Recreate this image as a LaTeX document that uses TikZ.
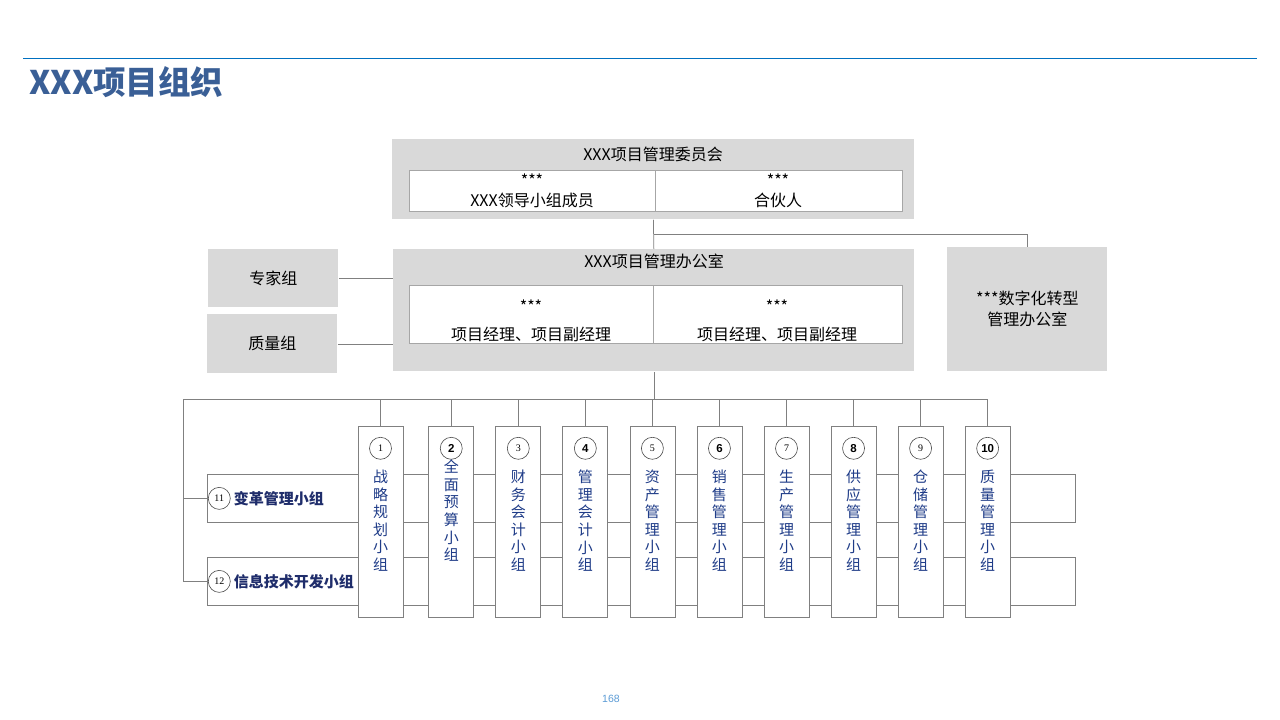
\documentclass[tikz,border=0pt]{standalone}
\usepackage{fontspec}
\setmainfont{Noto Sans CJK SC}
\newfontfamily\numserif{Liberation Serif}
\newfontfamily\numsans{Liberation Sans}
\usetikzlibrary{positioning}
\definecolor{boxgray}{HTML}{D9D9D9}
\definecolor{cellgray}{HTML}{A6A6A6}
\definecolor{linegray}{HTML}{808080}
\definecolor{ruleblue}{HTML}{0070C0}
\definecolor{titleblue}{HTML}{3A5F96}
\definecolor{groupblue}{HTML}{1F3C88}
\definecolor{labelblue}{HTML}{1F2D6B}
\definecolor{pageblue}{HTML}{5B9BD5}

\begin{document}
\begin{tikzpicture}[x=1pt, y=-1pt, node distance=21.3pt, line width=0.75pt,
    panel/.style={fill=boxgray, inner sep=0pt, anchor=north west, font=\fontsize{16}{21}\selectfont, align=center},
    cell/.style={draw=cellgray, fill=white, inner sep=0pt, anchor=north west},
    rowbox/.style={draw=linegray, fill=white, inner sep=0pt, anchor=north west, minimum width=868pt, minimum height=48pt},
    group/.style={draw=linegray, fill=white, inner sep=0pt, minimum width=45pt, minimum height=191pt},
    num/.style={circle, draw=black!70, line width=0.6pt, fill=white, inner sep=0pt, minimum size=22pt},
    numthin/.style={num, font=\numserif\fontsize{10}{10}\selectfont},
    numbold/.style={num, font=\numsans\bfseries\fontsize{11.5}{11.5}\selectfont},
    vtext/.style={align=center, inner sep=0pt, text=groupblue, font=\fontsize{15}{17.6}\selectfont},
    rowtext/.style={inner sep=0pt, text=labelblue, font=\bfseries\fontsize{15}{18}\selectfont},
    body/.style={inner sep=0pt, font=\fontsize{16}{18}\selectfont}]
  \useasboundingbox (0,0) rectangle (1280,720);

  % header
  \coordinate (rl) at (23,58);
  \coordinate (rr) at (1257,58);
  \draw[ruleblue, line width=1pt] (rl) -- (rr);
  \node[anchor=west, inner sep=0pt, text=titleblue, font=\bfseries\fontsize{32.5}{38}\selectfont] (title) at (29,82) {XXX项目组织};

  % committee
  \node[panel, minimum width=522pt, minimum height=80pt] (cmt) at (392,139) {};
  \node[body] (cmtt) at (653,154) {XXX项目管理委员会};
  \node[cell, minimum width=246pt, minimum height=41pt] (cmtl) at (409,170) {};
  \node[cell, minimum width=247pt, minimum height=41pt] (cmtr) at (655,170) {};
  \node[body] (cmtl1) at (532,180) {***};
  \node[body] (cmtl2) at (532,200) {XXX领导小组成员};
  \node[body] (cmtr1) at (778,180) {***};
  \node[body] (cmtr2) at (778,200) {合伙人};

  % office and side boxes
  \node[panel, minimum width=521pt, minimum height=122pt] (pmo) at (393,249) {};
  \node[body] (pmot) at (654,261) {XXX项目管理办公室};
  \node[cell, minimum width=244pt, minimum height=58pt] (pmol) at (409,285) {};
  \node[cell, minimum width=249pt, minimum height=58pt] (pmor) at (653,285) {};
  \node[body] (pmol1) at (531,306) {***};
  \node[body] (pmol2) at (531,334) {项目经理、项目副经理};
  \node[body] (pmor1) at (777,306) {***};
  \node[body] (pmor2) at (777,334) {项目经理、项目副经理};
  \node[panel, minimum width=130pt, minimum height=58pt] (exp) at (208,249) {专家组};
  \node[panel, minimum width=130pt, minimum height=59pt] (qua) at (207,314) {质量组};
  \node[panel, minimum width=160pt, minimum height=124pt] (dig) at (947,247) {***数字化转型\\管理办公室};

  \begin{scope}[draw=linegray]
    \coordinate (j) at (654,234);
    \draw (cmt.south) -- (pmo.north);
    \draw (j) -| (dig.north);
    \draw (exp.east) -- (exp.east -| pmo.west);
    \draw (qua.east) -- (qua.east -| pmo.west);
  \end{scope}

  % cross groups
  \node[rowbox] (r11) at (207,474) {};
  \node[rowbox] (r12) at (207,557) {};
  \node[numthin] (n11) [right=1pt of r11.west] {11};
  \node[numthin] (n12) [right=1pt of r12.west] {12};
  \node[rowtext] (t11) [right=3pt of n11] {变革管理小组};
  \node[rowtext] (t12) [right=3pt of n12] {信息技术开发小组};

  % groups
  \node[group, anchor=north] (c1) at (380.5,426) {};
  \node[group] (c2) [right=25pt of c1] {};
  \node[group] (c3) [right=of c2] {};
  \node[group] (c4) [right=of c3] {};
  \node[group] (c5) [right=of c4] {};
  \node[group] (c6) [right=of c5] {};
  \node[group] (c7) [right=of c6] {};
  \node[group] (c8) [right=of c7] {};
  \node[group] (c9) [right=of c8] {};
  \node[group] (c10) [right=of c9] {};

  \node[numthin] (n1) [below=11pt of c1.north] {1};
  \node[numbold] (n2) [below=11pt of c2.north] {2};
  \node[numthin] (n3) [below=11pt of c3.north] {3};
  \node[numbold] (n4) [below=11pt of c4.north] {4};
  \node[numthin] (n5) [below=11pt of c5.north] {5};
  \node[numbold] (n6) [below=11pt of c6.north] {6};
  \node[numthin] (n7) [below=11pt of c7.north] {7};
  \node[numbold] (n8) [below=11pt of c8.north] {8};
  \node[numthin] (n9) [below=11pt of c9.north] {9};
  \node[numbold] (n10) [below=11pt of c10.north] {10};

  \node[vtext] (t1) [below=10pt of n1] {战\\略\\规\\划\\小\\组};
  \node[vtext] (t2) [below=0pt of n2] {全\\面\\预\\算\\小\\组};
  \node[vtext] (t3) [below=10pt of n3] {财\\务\\会\\计\\小\\组};
  \node[vtext] (t4) [below=10pt of n4] {管\\理\\会\\计\\小\\组};
  \node[vtext] (t5) [below=10pt of n5] {资\\产\\管\\理\\小\\组};
  \node[vtext] (t6) [below=10pt of n6] {销\\售\\管\\理\\小\\组};
  \node[vtext] (t7) [below=10pt of n7] {生\\产\\管\\理\\小\\组};
  \node[vtext] (t8) [below=10pt of n8] {供\\应\\管\\理\\小\\组};
  \node[vtext] (t9) [below=10pt of n9] {仓\\储\\管\\理\\小\\组};
  \node[vtext] (t10) [below=10pt of n10] {质\\量\\管\\理\\小\\组};

  % tree lines
  \begin{scope}[draw=linegray]
    \coordinate (lbus) at (183,399);
    \draw (pmo.south) -- (pmo.south |- lbus);
    \draw (lbus) -| (c10.north);
    \draw (c1.north) -- (c1.north |- lbus);
    \draw (c2.north) -- (c2.north |- lbus);
    \draw (c3.north) -- (c3.north |- lbus);
    \draw (c4.north) -- (c4.north |- lbus);
    \draw (c5.north) -- (c5.north |- lbus);
    \draw (c6.north) -- (c6.north |- lbus);
    \draw (c7.north) -- (c7.north |- lbus);
    \draw (c8.north) -- (c8.north |- lbus);
    \draw (c9.north) -- (c9.north |- lbus);
    \draw (lbus) |- (r11.west);
    \draw (lbus) |- (r12.west);
  \end{scope}

  \node[text=pageblue, inner sep=0pt, font=\numsans\fontsize{10.5}{12}\selectfont] (page) at (611,699) {168};
\end{tikzpicture}
\end{document}
